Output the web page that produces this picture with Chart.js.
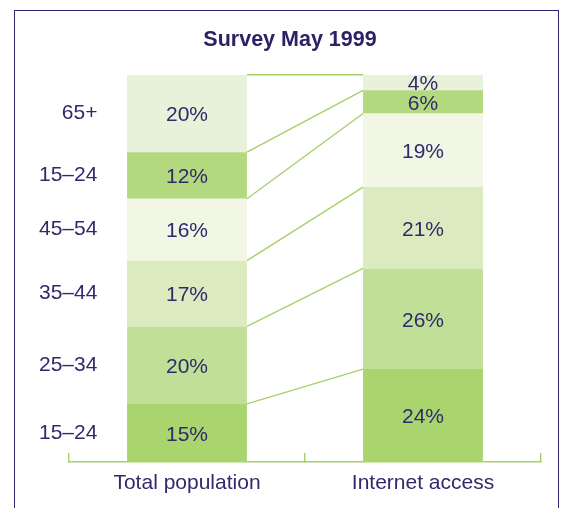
<!DOCTYPE html>
<html>
<head>
<meta charset="utf-8">
<script src="https://cdn.jsdelivr.net/npm/chart.js@4/dist/chart.umd.min.js"></script>
<style>
  html, body { margin: 0; padding: 0; background: #fff; }
  #wrap { position: relative; width: 563px; height: 508px; overflow: hidden; }
  #frame { position: absolute; left: 14px; top: 10px; width: 545px; height: 520px;
           border: 1.5px solid #2d2870; box-sizing: border-box; }
  canvas { position: absolute; left: 0; top: 0; }
</style>
</head>
<body>
<div id="wrap">
  <div id="frame"></div>
  <canvas id="chart" width="563" height="508"></canvas>
</div>
<script>
(() => {
  // columns
  const categories = ['Total population', 'Internet access'];
  // segments, bottom to top (labels as printed in the source)
  const ageGroups = ['15–24', '25–34', '35–44', '45–54', '15–24', '65+'];
  const totalPopulation = [15, 20, 17, 16, 12, 20];
  const internetAccess = [24, 26, 21, 19, 6, 4];
  const segmentColors = ['#a9d46e', '#c2df97', '#dbeabf', '#f1f6e5', '#b3d97e', '#e8f1d9'];

  const ink = '#2f2a6b';
  const lineGreen = '#a6d16a';
  const font = "'Liberation Sans', Arial, Helvetica, sans-serif";

  // label positions on the left: middle of each segment of the first column
  const labelValues = [];
  let acc = 0;
  totalPopulation.forEach(v => { labelValues.push(acc + v / 2); acc += v; });

  const datasets = ageGroups.map((g, i) => ({
    label: g,
    data: [totalPopulation[i], internetAccess[i]],
    backgroundColor: segmentColors[i],
    borderWidth: 0,
    stack: 'all',
    categoryPercentage: 1,
    barPercentage: 0.508
  }));

  // connecting lines between segment boundaries + percent labels
  const overlay = {
    id: 'overlay',
    afterDatasetsDraw(chart) {
      const ctx = chart.ctx;
      ctx.save();
      ctx.strokeStyle = lineGreen;
      ctx.lineWidth = 1.4;
      chart.data.datasets.forEach((ds, i) => {
        const meta = chart.getDatasetMeta(i);
        const a = meta.data[0], b = meta.data[1];
        ctx.beginPath();
        ctx.moveTo(a.x + a.width / 2, a.y);
        ctx.lineTo(b.x - b.width / 2, b.y);
        ctx.stroke();
      });
      ctx.fillStyle = ink;
      ctx.font = '21px ' + font;
      ctx.textAlign = 'center';
      ctx.textBaseline = 'middle';
      chart.data.datasets.forEach((ds, i) => {
        const meta = chart.getDatasetMeta(i);
        meta.data.forEach((bar, j) => {
          ctx.fillText(ds.data[j] + '%', bar.x, (bar.y + bar.base) / 2 + 2);
        });
      });
      ctx.restore();
    }
  };

  new Chart(document.getElementById('chart'), {
    type: 'bar',
    data: { labels: categories, datasets: datasets },
    options: {
      responsive: false,
      animation: false,
      layout: { padding: { left: 39, right: 22, top: 0, bottom: 0 } },
      plugins: {
        legend: { display: false },
        tooltip: { enabled: false },
        title: {
          display: true,
          text: 'Survey May 1999',
          color: '#2b2266',
          font: { family: font, size: 21.5, weight: 'bold' },
          padding: { top: 27, bottom: 22 }
        }
      },
      scales: {
        x: {
          stacked: true,
          grid: {
            display: true,
            drawOnChartArea: false,
            offset: true,
            color: lineGreen,
            lineWidth: 1.4,
            tickLength: -9
          },
          border: { display: true, color: lineGreen, width: 1.4 },
          ticks: {
            color: ink,
            font: { family: font, size: 21 },
            padding: 18
          },
          afterFit(scale) { scale.height = 46; }
        },
        y: {
          stacked: true,
          min: 0,
          max: 100,
          grid: { display: false, drawTicks: false },
          border: { display: false },
          afterBuildTicks(scale) {
            scale.ticks = labelValues.map(v => ({ value: v }));
          },
          ticks: {
            color: ink,
            font: { family: font, size: 21 },
            mirror: true,
            crossAlign: 'far',
            padding: -30,
            autoSkip: false,
            callback(value, index) { return ageGroups[index]; }
          },
          afterFit(scale) { scale.width = 30; }
        }
      }
    },
    plugins: [overlay]
  });
})();
</script>
</body>
</html>
